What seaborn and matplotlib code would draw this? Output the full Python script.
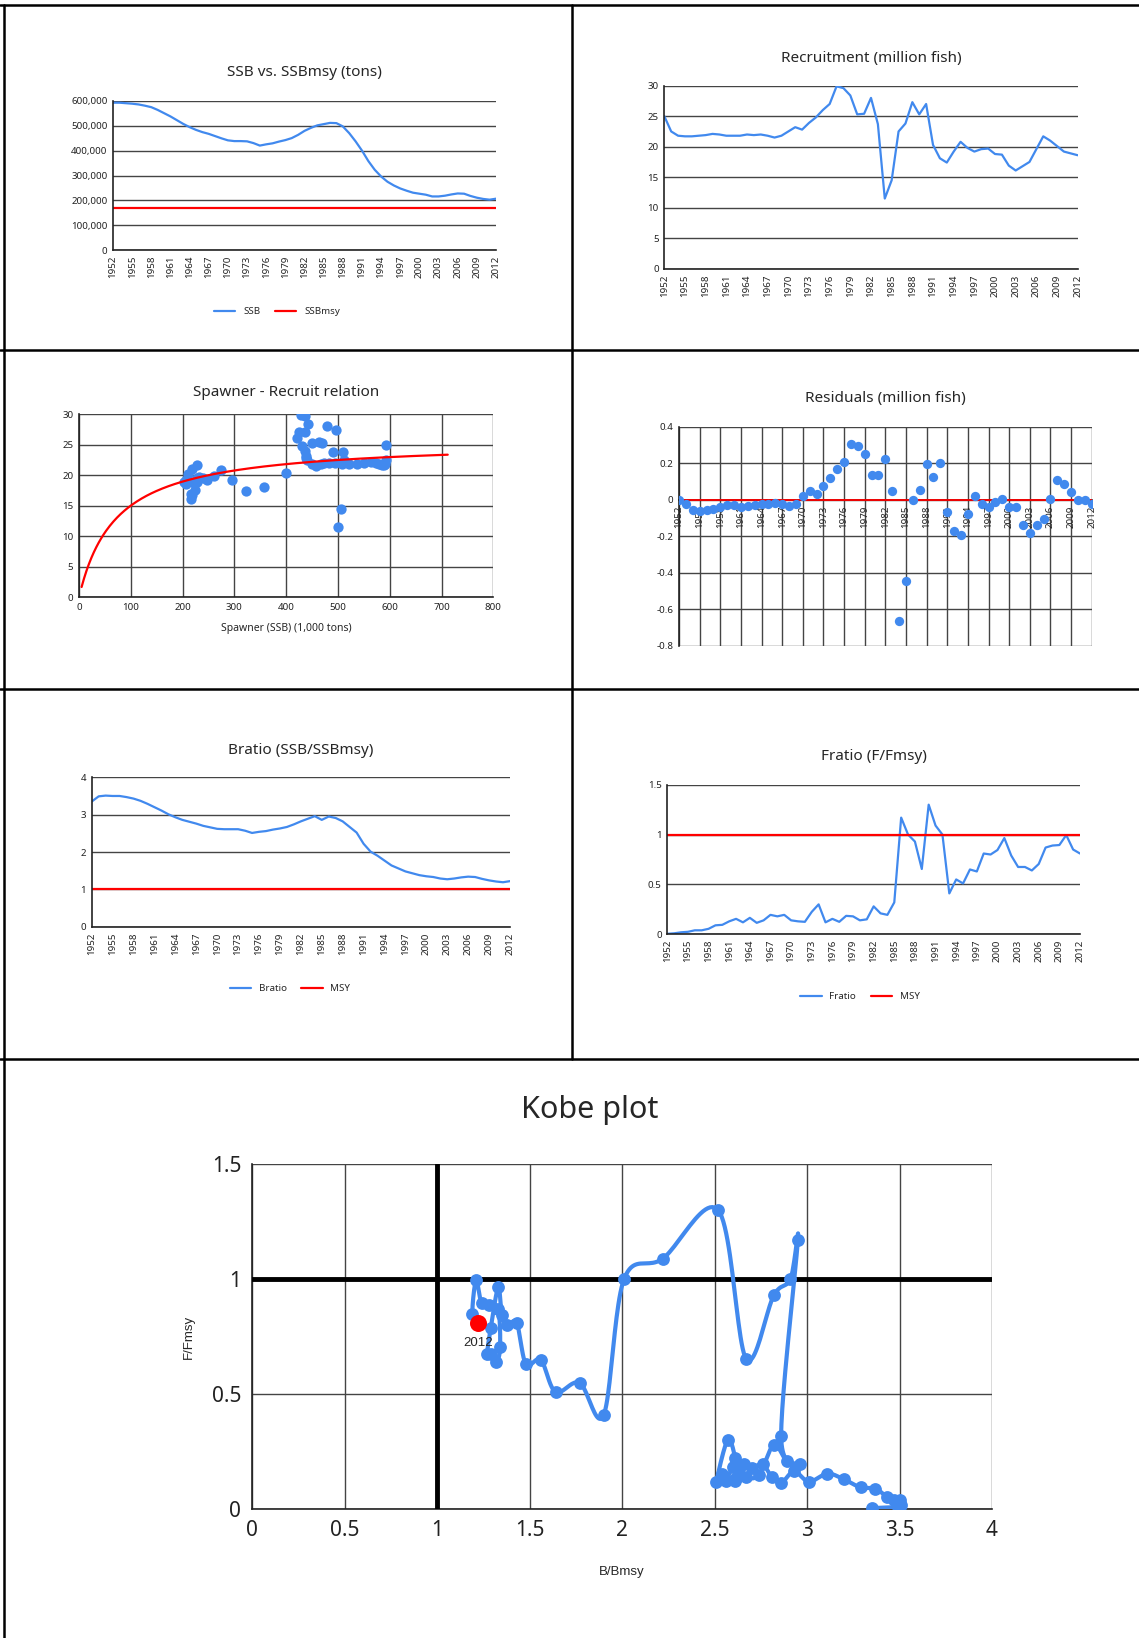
import numpy as np
import pandas as pd
import seaborn as sns
import matplotlib.pyplot as plt
from matplotlib.lines import Line2D
from matplotlib.ticker import FuncFormatter, MultipleLocator

sns.set_style("white")
plt.rcParams['font.family'] = ['Noto Sans', 'DejaVu Sans']

years = np.arange(1952, 2013)

ssb = [592, 592, 590, 588, 585, 580, 574, 563, 550, 537,
       522, 507, 494, 483, 474, 467, 458, 449, 441, 438,
       438, 437, 430, 420, 425, 429, 436, 442, 450, 463,
       479, 491, 501, 506, 511, 510, 497, 470, 437, 400,
       358, 323, 296, 275, 260, 248, 239, 231, 227, 223,
       216, 216, 219, 224, 228, 227, 218, 211, 206, 203, 207]
ssb = np.array(ssb) * 1000.0
ssbmsy = 170000

recruit = [25.0, 22.5, 21.8, 21.7, 21.7, 21.8, 21.9, 22.1, 22.0, 21.8,
           21.8, 21.8, 22.0, 21.9, 22.0, 21.8, 21.5, 21.8, 22.5, 23.2,
           22.8, 23.9, 24.8, 26.0, 27.0, 29.9, 29.6, 28.4, 25.3, 25.4,
           28.0, 23.7, 11.5, 14.5, 22.5, 23.8, 27.3, 25.3, 27.0, 20.3,
           18.1, 17.4, 19.2, 20.8, 19.8, 19.2, 19.6, 19.7, 18.8, 18.7,
           16.9, 16.1, 16.8, 17.5, 19.6, 21.7, 21.0, 20.1, 19.2, 18.9, 18.6]

resid = [0.0, -0.022, -0.053, -0.06, -0.055, -0.048, -0.04, -0.03, -0.03, -0.037,
         -0.033, -0.03, -0.024, -0.02, -0.018, -0.024, -0.031, -0.022, 0.02, 0.048,
         0.03, 0.078, 0.12, 0.17, 0.21, 0.305, 0.295, 0.25, 0.135, 0.135,
         0.225, 0.05, -0.665, -0.445, 0.0, 0.055, 0.195, 0.125, 0.205, -0.065,
         -0.17, -0.19, -0.08, 0.02, -0.02, -0.04, -0.01, 0.005, -0.04, -0.04,
         -0.135, -0.18, -0.14, -0.105, 0.005, 0.11, 0.085, 0.045, 0.0, 0.0, -0.025]

bratio = [3.35, 3.49, 3.51, 3.50, 3.50, 3.47, 3.43, 3.37, 3.29, 3.20,
          3.11, 3.01, 2.93, 2.86, 2.81, 2.76, 2.70, 2.66, 2.62, 2.61,
          2.61, 2.61, 2.57, 2.51, 2.54, 2.56, 2.60, 2.63, 2.67, 2.74,
          2.82, 2.89, 2.96, 2.86, 2.95, 2.91, 2.82, 2.67, 2.52, 2.22,
          2.01, 1.90, 1.77, 1.64, 1.56, 1.48, 1.43, 1.38, 1.35, 1.33,
          1.29, 1.27, 1.29, 1.32, 1.34, 1.33, 1.28, 1.24, 1.21, 1.19, 1.22]

fratio = [0.005, 0.01, 0.02, 0.025, 0.04, 0.04, 0.055, 0.09, 0.095, 0.13,
          0.155, 0.12, 0.165, 0.115, 0.14, 0.195, 0.18, 0.195, 0.14, 0.13,
          0.125, 0.225, 0.30, 0.12, 0.155, 0.125, 0.185, 0.18, 0.14, 0.15,
          0.28, 0.21, 0.195, 0.32, 1.17, 1.0, 0.93, 0.655, 1.30, 1.09,
          1.0, 0.41, 0.55, 0.51, 0.65, 0.63, 0.81, 0.80, 0.845, 0.965,
          0.79, 0.675, 0.675, 0.64, 0.705, 0.87, 0.89, 0.895, 0.995, 0.85, 0.81]

# Beverton-Holt fit R = a*S/(b+S), S in 1,000 tons
bh_a, bh_b = 25.67, 71.1
bh_smin, bh_smax = 5, 712

BLUE = '#4189ee'
RED = '#ff0000'
GRID = '#444444'
W, H = 1139, 1638

fig = plt.figure(figsize=(W / 100, H / 100), dpi=100)


def box(x0, x1, y0, y1):
    return fig.add_axes([x0 / W, 1 - y1 / H, (x1 - x0) / W, (y1 - y0) / H])


def style(ax, vgrid=False):
    ax.grid(axis='y', color=GRID, lw=1)
    if vgrid:
        ax.grid(axis='x', color=GRID, lw=1)
    for s in ['top', 'right']:
        ax.spines[s].set_visible(False)
    for s in ['left', 'bottom']:
        ax.spines[s].set_color('#222222')
        ax.spines[s].set_linewidth(1.2)
    ax.tick_params(direction='out', length=3, width=1, labelsize=7, pad=1,
                   colors='#222222')
    ax.set_xlabel('')
    ax.set_ylabel('')


def year_axis(ax):
    ax.set_xlim(1952, 2012)
    ax.set_xticks(years[::3])
    ax.set_xticklabels([str(y) for y in years[::3]])
    ax.tick_params(axis='x', labelrotation=90)


# ---- SSB vs SSBmsy
ax1 = box(113, 496, 100.7, 250.3)
sns.lineplot(x=years, y=ssb, ax=ax1, color=BLUE, lw=1.6, label='SSB')
sns.lineplot(x=years, y=[ssbmsy] * len(years), ax=ax1, color=RED, lw=1.6, label='SSBmsy')
ax1.set_ylim(0, 600000)
ax1.yaxis.set_major_locator(MultipleLocator(100000))
ax1.yaxis.set_major_formatter(FuncFormatter(lambda v, p: f'{int(v):,}'))
style(ax1)
year_axis(ax1)
ax1.set_title('SSB vs. SSBmsy (tons)', fontsize=11, pad=18)
ax1.legend(loc='center', bbox_to_anchor=(277 / W, 1 - 312 / H), bbox_transform=fig.transFigure,
           ncol=2, frameon=False, fontsize=7, handlelength=2.2, columnspacing=1.5)

# ---- Recruitment
ax2 = box(664.3, 1077.7, 85.7, 268.7)
sns.lineplot(x=years, y=recruit, ax=ax2, color=BLUE, lw=1.6)
ax2.set_ylim(0, 30)
ax2.yaxis.set_major_locator(MultipleLocator(5))
style(ax2)
year_axis(ax2)
ax2.set_title('Recruitment (million fish)', fontsize=11, pad=17)

# ---- Spawner - Recruit
ax3 = box(79, 493.3, 414, 597.3)
sr = pd.DataFrame({'S': ssb / 1000.0, 'R': recruit})
sns.scatterplot(data=sr, x='S', y='R', ax=ax3, color=BLUE, s=55, edgecolor=BLUE, linewidth=0, zorder=3)
s_fit = np.linspace(bh_smin, bh_smax, 300)
sns.lineplot(x=s_fit, y=bh_a * s_fit / (bh_b + s_fit), ax=ax3, color=RED, lw=1.6, zorder=4)
ax3.set_xlim(0, 800)
ax3.set_ylim(0, 30)
ax3.xaxis.set_major_locator(MultipleLocator(100))
ax3.yaxis.set_major_locator(MultipleLocator(5))
style(ax3, vgrid=True)
ax3.set_title('Spawner - Recruit relation', fontsize=11, pad=13)
ax3.set_xlabel('Spawner (SSB) (1,000 tons)', fontsize=7.5, labelpad=8)

# ---- Residuals
ax4 = box(679, 1091.7, 427, 645.7)
sns.scatterplot(x=years, y=resid, ax=ax4, color=BLUE, s=45, edgecolor=BLUE, linewidth=0, zorder=4)
ax4.set_ylim(-0.8, 0.4)
ax4.yaxis.set_major_locator(MultipleLocator(0.2))
ax4.yaxis.set_major_formatter(FuncFormatter(lambda v, p: '0' if abs(v) < 1e-9 else f'{v:.1f}'))
style(ax4, vgrid=True)
ax4.spines['bottom'].set_position(('data', 0))
year_axis(ax4)
ax4.tick_params(direction='out', length=3, width=1, labelsize=7, pad=1, colors='#222222')
ax4.axhline(0, color=RED, lw=1.3, zorder=3)
ax4.set_title('Residuals (million fish)', fontsize=11, pad=18)

# ---- Bratio
ax5 = box(91.7, 510, 777.3, 926.7)
sns.lineplot(x=years, y=bratio, ax=ax5, color=BLUE, lw=1.6, label='Bratio')
sns.lineplot(x=years, y=[1] * len(years), ax=ax5, color=RED, lw=1.6, label='MSY')
ax5.set_ylim(0, 4)
ax5.yaxis.set_major_locator(MultipleLocator(1))
style(ax5)
year_axis(ax5)
ax5.set_title('Bratio (SSB/SSBmsy)', fontsize=11, pad=17)
ax5.legend(loc='center', bbox_to_anchor=(290 / W, 1 - 989 / H), bbox_transform=fig.transFigure,
           ncol=2, frameon=False, fontsize=7, handlelength=2.2, columnspacing=1.5)

# ---- Fratio
ax6 = box(667.3, 1080, 784.7, 934.3)
sns.lineplot(x=years, y=fratio, ax=ax6, color=BLUE, lw=1.6, label='Fratio')
sns.lineplot(x=years, y=[1] * len(years), ax=ax6, color=RED, lw=1.6, label='MSY')
ax6.set_ylim(0, 1.5)
ax6.yaxis.set_major_locator(MultipleLocator(0.5))
ax6.yaxis.set_major_formatter(FuncFormatter(lambda v, p: f'{v:g}'))
style(ax6)
year_axis(ax6)
ax6.set_title('Fratio (F/Fmsy)', fontsize=11, pad=18)
ax6.legend(loc='center', bbox_to_anchor=(860 / W, 1 - 996.7 / H), bbox_transform=fig.transFigure,
           ncol=2, frameon=False, fontsize=7, handlelength=2.2, columnspacing=1.5)


# ---- Kobe plot
def smooth_path(x, y, sx, sy, n=24):
    p = np.column_stack([np.asarray(x) * sx, np.asarray(y) * sy])
    out = []
    t = np.linspace(0, 1, n)[:, None]
    for i in range(len(p) - 1):
        p0 = p[i - 1] if i > 0 else p[i]
        p1, p2 = p[i], p[i + 1]
        p3 = p[i + 2] if i + 2 < len(p) else p[i + 1]
        c1 = p1 + (p2 - p0) / 6
        c2 = p2 - (p3 - p1) / 6
        seg = ((1 - t) ** 3) * p1 + 3 * ((1 - t) ** 2) * t * c1 + 3 * (1 - t) * t ** 2 * c2 + t ** 3 * p2
        out.append(seg if i == 0 else seg[1:])
    out = np.vstack(out)
    return out[:, 0] / sx, out[:, 1] / sy


ax7 = box(252.3, 992, 1164.3, 1509.3)
kx, ky = smooth_path(bratio, fratio, 185, 230)
ax7.plot(kx, ky, color=BLUE, lw=3, zorder=4, solid_capstyle='round')
sns.scatterplot(x=bratio, y=fratio, ax=ax7, color=BLUE, s=85, edgecolor=BLUE, linewidth=0, zorder=5)
sns.scatterplot(x=[bratio[-1]], y=[fratio[-1]], ax=ax7, color=RED, s=150, edgecolor=RED, linewidth=0, zorder=6)
ax7.text(bratio[-1], fratio[-1] - 0.087, str(years[-1]), ha='center', va='center', fontsize=9.5,
         family=['Liberation Sans', 'DejaVu Sans'], zorder=7)
ax7.set_xlim(0, 4)
ax7.set_ylim(0, 1.5)
ax7.xaxis.set_major_locator(MultipleLocator(0.5))
ax7.yaxis.set_major_locator(MultipleLocator(0.5))
ax7.xaxis.set_major_formatter(FuncFormatter(lambda v, p: f'{v:g}'))
ax7.yaxis.set_major_formatter(FuncFormatter(lambda v, p: f'{v:g}'))
style(ax7, vgrid=True)
ax7.tick_params(labelsize=15, length=5, pad=3)
ax7.axhline(1, color='black', lw=3.5, zorder=3)
ax7.axvline(1, color='black', lw=3.5, zorder=3)
fig.text(590 / W, 1 - 1110 / H, 'Kobe plot', fontsize=22, ha='center', va='center')
ax7.set_xlabel('B/Bmsy', fontsize=9.5, family=['Liberation Sans', 'DejaVu Sans'], labelpad=18)
ax7.set_ylabel('F/Fmsy', fontsize=9.5, family=['Liberation Sans', 'DejaVu Sans'], labelpad=12)

# ---- cell borders
for (x0, y0, x1, y1) in [(0, 5, W, 5), (3.5, 5, 3.5, H), (572, 5, 572, 1059),
                         (0, 350, W, 350), (0, 689, W, 689), (0, 1059, W, 1059)]:
    fig.add_artist(Line2D([x0 / W, x1 / W], [1 - y0 / H, 1 - y1 / H], color='black', lw=1.8))

fig.savefig('out.png', dpi=100)
